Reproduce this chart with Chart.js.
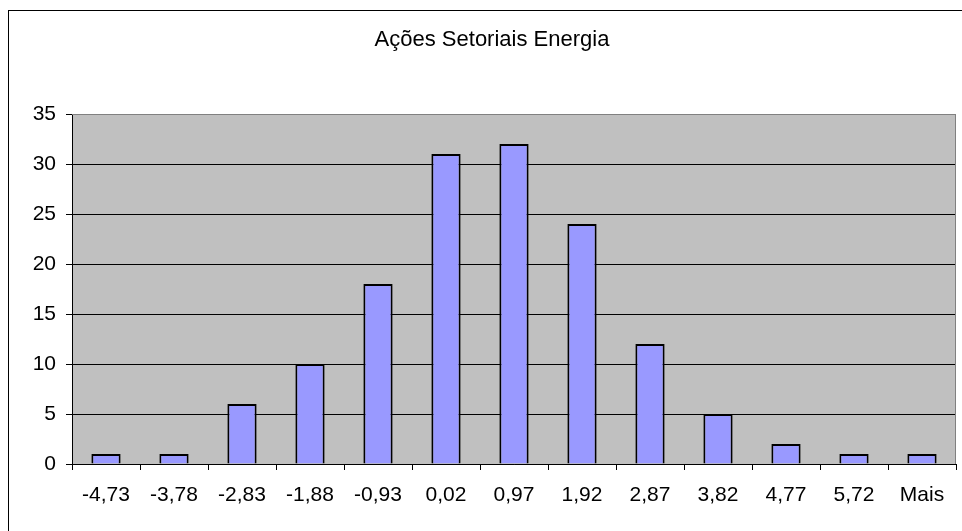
<!DOCTYPE html>
<html>
<head>
<meta charset="utf-8">
<script src="https://cdn.jsdelivr.net/npm/chart.js@4"></script>
<style>
  body { margin: 0; background: #fff; }
  #wrap { width: 962px; height: 531px; }
</style>
</head>
<body>
<div id="wrap"><canvas id="myChart"></canvas></div>
<script>
// classes do histograma
var labels = ['-4,73', '-3,78', '-2,83', '-1,88', '-0,93', '0,02', '0,97', '1,92', '2,87', '3,82', '4,77', '5,72', 'Mais'];
// frequencia
var frequencia = [1, 1, 6, 10, 18, 31, 32, 24, 12, 5, 2, 1, 1];
var yTicks = [0, 5, 10, 15, 20, 25, 30, 35];

// fundo cinza da area do grafico + moldura externa
var fundo = {
    id: 'fundo',
    beforeDraw: function (chart) {
        var ctx = chart.ctx, a = chart.chartArea;
        ctx.save();
        ctx.fillStyle = '#fff';
        ctx.fillRect(0, 0, chart.width, chart.height);
        ctx.strokeStyle = '#000';
        ctx.lineWidth = 1;
        ctx.strokeRect(8.5, 10.5, chart.width + 20, chart.height + 20);
        ctx.fillStyle = '#c0c0c0';
        ctx.fillRect(a.left, a.top, a.right - a.left, a.bottom - a.top);
        ctx.restore();
    },
    afterDatasetsDraw: function (chart) {
        var ctx = chart.ctx, a = chart.chartArea;
        ctx.save();
        ctx.strokeStyle = '#808080';
        ctx.lineWidth = 1;
        ctx.beginPath();
        ctx.moveTo(a.left, a.top + 0.5);
        ctx.lineTo(a.right - 0.5, a.top + 0.5);
        ctx.lineTo(a.right - 0.5, a.bottom);
        ctx.stroke();
        ctx.restore();
    }
};

var config = {
    type: 'bar',
    data: {
        labels: labels,
        datasets: [{
            label: 'Frequência',
            data: frequencia,
            backgroundColor: '#9999ff',
            borderColor: '#000',
            borderWidth: 2,
            barPercentage: 0.43,
            categoryPercentage: 1
        }]
    },
    options: {
        responsive: true,
        maintainAspectRatio: false,
        animation: false,
        layout: { padding: { left: 28, right: 6, top: 0, bottom: 0 } },
        plugins: {
            legend: { display: false },
            tooltip: { enabled: false },
            title: {
                display: true,
                text: 'Ações Setoriais Energia',
                color: '#000',
                font: { family: 'Liberation Sans, Arial', size: 22, weight: 'normal' },
                padding: { top: 27, bottom: 60.6 }
            }
        },
        scales: {
            x: {
                grid: {
                    display: true,
                    offset: true,
                    drawOnChartArea: false,
                    drawTicks: true,
                    tickLength: 6,
                    tickColor: '#000'
                },
                border: { display: true, color: '#000', width: 1 },
                ticks: {
                    color: '#000',
                    padding: 13,
                    maxRotation: 0,
                    autoSkip: false,
                    font: { family: 'Liberation Sans, Arial', size: 21 }
                },
                afterFit: function (scale) { scale.height = 67; }
            },
            y: {
                min: 0,
                max: 35,
                afterBuildTicks: function (scale) {
                    scale.ticks = yTicks.map(function (v) { return { value: v }; });
                },
                grid: {
                    color: function (c) { return c.tick && c.tick.value === 35 ? '#808080' : '#000'; },
                    tickColor: '#000',
                    tickLength: 6,
                    lineWidth: 1
                },
                border: { display: true, color: '#000', width: 1 },
                ticks: {
                    color: '#000',
                    padding: 10,
                    font: { family: 'Liberation Sans, Arial', size: 21 }
                },
                afterFit: function (scale) { scale.width = 44; }
            }
        }
    },
    plugins: [fundo]
};

var ctx = document.getElementById('myChart').getContext('2d');
var myChart = new Chart(ctx, config);
</script>
</body>
</html>
